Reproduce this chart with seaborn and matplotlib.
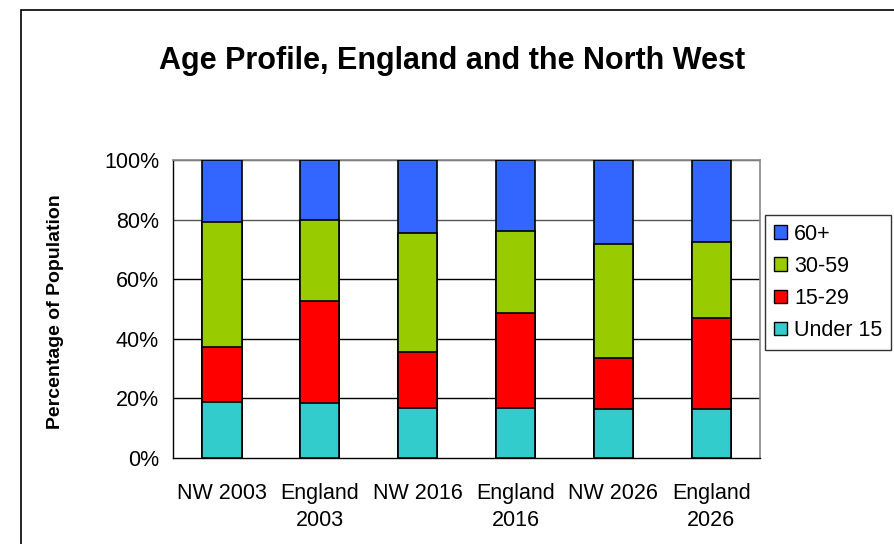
import matplotlib
matplotlib.use("Agg")
import matplotlib.pyplot as plt
import matplotlib.patches as mpatches
import numpy as np
import pandas as pd
import seaborn as sns

categories = ["NW 2003", "England\n2003", "NW 2016", "England\n2016", "NW 2026", "England\n2026"]
under_15 = [18.9, 18.3, 16.8, 16.8, 16.4, 16.4]
age_15_29 = [18.2, 34.4, 18.8, 31.8, 17.0, 30.6]
age_30_59 = [42.2, 27.0, 40.0, 27.5, 38.5, 25.4]
age_60_plus = [20.7, 20.3, 24.4, 23.9, 28.1, 27.6]

groups = ["Under 15", "15-29", "30-59", "60+"]
colors = {"Under 15": "#33CCCC", "15-29": "#FF0000", "30-59": "#99CC00", "60+": "#3366FF"}

df = pd.DataFrame({"Category": categories, "Under 15": under_15, "15-29": age_15_29,
                   "30-59": age_30_59, "60+": age_60_plus})
cum = df[groups].cumsum(axis=1)

sns.set_style("white")
plt.rcParams['font.family'] = ['Liberation Sans', 'DejaVu Sans']
plt.rcParams['text.color'] = 'black'
plt.rcParams['axes.labelcolor'] = 'black'
plt.rcParams['xtick.color'] = 'black'
plt.rcParams['ytick.color'] = 'black'

fig = plt.figure(figsize=(8.95, 5.44), dpi=100)
ax = fig.add_axes([0.1933, 0.158, 0.656, 0.548])

# stacked bars: draw cumulative totals from the top down
for g in reversed(groups):
    sns.barplot(x=df["Category"], y=cum[g], color=colors[g], saturation=1,
                width=0.4, edgecolor="black", linewidth=1.2, ax=ax, zorder=3)

ax.set_ylim(0, 100)
ax.set_xlim(-0.5, 5.5)
ax.set_yticks(range(0, 101, 20))
ax.set_yticklabels([f"{v}%" for v in range(0, 101, 20)], fontsize=15.5)
ax.set_xticks(range(6))
ax.set_xticklabels(categories, fontsize=15.5, linespacing=1.4)
ax.set_xticks(np.arange(-0.5, 6, 1), minor=True)
ax.tick_params(axis="x", which="major", length=0, pad=18)
ax.tick_params(axis="x", which="minor", length=5, width=1, color="black", direction="out")
ax.tick_params(axis="y", length=6, width=1, color="black", direction="out", pad=4)
ax.set_xlabel("")
ax.set_ylabel("Percentage of Population", fontsize=14, fontweight="bold")
ax.yaxis.set_label_coords(-0.186, 0.49)

for v in [20, 40, 60]:
    ax.axhline(v, color="black", linewidth=1, zorder=1)
for v in [80, 100]:
    ax.axhline(v, color="#555555", linewidth=1, zorder=1)

for s in ["top", "right"]:
    ax.spines[s].set_color("#888888")
    ax.spines[s].set_linewidth(1.2)
for s in ["left", "bottom"]:
    ax.spines[s].set_color("black")
    ax.spines[s].set_linewidth(1)

fig.text(0.505, 0.888, "Age Profile, England and the North West", ha="center", va="center",
         fontsize=22, fontweight="bold")

handles = [mpatches.Patch(facecolor=colors[g], edgecolor="black", label=g) for g in reversed(groups)]
leg = fig.legend(handles=handles, loc="upper left", bbox_to_anchor=(765 / 895, 1 - 215 / 544),
                 fontsize=15.5, frameon=True, fancybox=False, handlelength=0.6, handleheight=0.6,
                 handletextpad=0.35, labelspacing=0.52, borderpad=0.4, borderaxespad=0)
leg.get_frame().set_edgecolor("black")
leg.get_frame().set_linewidth(1)

# outer chart border
fig.patches.append(mpatches.Rectangle((21 / 895, -0.1), 1.2, 1 - 10 / 544 + 0.1,
                                      transform=fig.transFigure, fill=False,
                                      edgecolor="black", linewidth=1.2))

fig.savefig("out.png", dpi=100)
